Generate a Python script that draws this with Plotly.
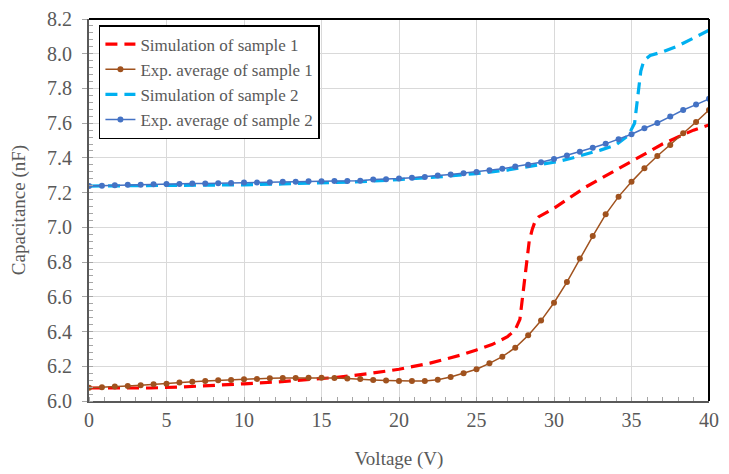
import plotly.graph_objects as go

# Experimental voltage grid (49 points, 0 to 40 V)
exp_voltage = [i * 40 / 48 for i in range(49)]

exp_sample1 = [6.077, 6.079, 6.083, 6.086, 6.090, 6.096, 6.100, 6.106, 6.111, 6.115,
               6.119, 6.121, 6.125, 6.127, 6.131, 6.132, 6.132, 6.134, 6.134, 6.132,
               6.129, 6.127, 6.121, 6.118, 6.115, 6.115, 6.115, 6.123, 6.138, 6.160,
               6.183, 6.217, 6.255, 6.307, 6.378, 6.463, 6.566, 6.685, 6.820, 6.950,
               7.075, 7.177, 7.262, 7.340, 7.411, 7.475, 7.542, 7.607, 7.676]

exp_sample2 = [7.238, 7.240, 7.242, 7.246, 7.246, 7.248, 7.250, 7.250, 7.252, 7.252,
               7.254, 7.256, 7.258, 7.258, 7.260, 7.262, 7.263, 7.265, 7.266, 7.267,
               7.267, 7.269, 7.275, 7.277, 7.281, 7.286, 7.290, 7.298, 7.304, 7.312,
               7.319, 7.329, 7.338, 7.350, 7.361, 7.375, 7.394, 7.414, 7.435, 7.458,
               7.481, 7.508, 7.536, 7.571, 7.601, 7.638, 7.676, 7.707, 7.740]

sim1_voltage = [0, 2, 4, 6, 8, 10, 12, 14, 16, 18, 20, 22, 24, 25, 26, 27, 27.5, 27.8,
                28.0, 28.2, 28.4, 28.6, 28.8, 29, 30, 31, 32, 33, 34, 35, 36, 37, 38, 39, 40]
sim1_values = [6.075, 6.074, 6.075, 6.081, 6.088, 6.099, 6.109, 6.122, 6.136, 6.157,
               6.183, 6.218, 6.265, 6.294, 6.325, 6.370, 6.410, 6.470, 6.620, 6.790,
               6.920, 6.990, 7.040, 7.060, 7.110, 7.170, 7.230, 7.280, 7.330, 7.380,
               7.430, 7.480, 7.520, 7.560, 7.590]

sim2_voltage = [0, 2.5, 5, 7.5, 10, 12.5, 15, 17.5, 20, 22.5, 25, 27, 28, 29, 30, 31, 32,
                33, 34, 34.8, 35.2, 35.4, 35.6, 35.8, 36.2, 37, 38, 39, 40]
sim2_values = [7.238, 7.239, 7.240, 7.242, 7.245, 7.250, 7.255, 7.263, 7.275, 7.290,
               7.310, 7.330, 7.345, 7.360, 7.375, 7.395, 7.420, 7.445, 7.475, 7.530,
               7.600, 7.750, 7.900, 7.960, 7.990, 8.010, 8.045, 8.090, 8.135]

x_ticks = [0, 5, 10, 15, 20, 25, 30, 35, 40]
y_ticks = [6.0, 6.2, 6.4, 6.6, 6.8, 7.0, 7.2, 7.4, 7.6, 7.8, 8.0, 8.2]

FONT = "Liberation Serif, Times New Roman, serif"
GRAY = "#595959"

fig = go.Figure()
fig.add_trace(go.Scatter(x=sim1_voltage, y=sim1_values, mode="lines",
                         name="Simulation of sample 1", legendgroup="a",
                         line=dict(color="#FF0000", width=3.2, dash="12px,7px")))
fig.add_trace(go.Scatter(x=exp_voltage, y=exp_sample1, mode="lines+markers",
                         name="Exp. average of sample 1", legendgroup="b",
                         line=dict(color="#A0521E", width=1.5),
                         marker=dict(color="#A0521E", size=6)))
fig.add_trace(go.Scatter(x=sim2_voltage, y=sim2_values, mode="lines",
                         name="Simulation of sample 2", legendgroup="c",
                         line=dict(color="#00B0F0", width=3.2, dash="12px,7px")))
fig.add_trace(go.Scatter(x=exp_voltage, y=exp_sample2, mode="lines+markers",
                         name="Exp. average of sample 2", legendgroup="d",
                         line=dict(color="#4472C4", width=1.5),
                         marker=dict(color="#4472C4", size=6)))

fig.update_layout(
    width=729, height=474,
    margin=dict(l=81, r=28, t=11, b=81),
    paper_bgcolor="white", plot_bgcolor="white",
    font=dict(family=FONT, color=GRAY, size=19),
    showlegend=True,
    legend=dict(x=0.016, y=0.984, xanchor="left", yanchor="top",
                bgcolor="white", bordercolor="black", borderwidth=1.5,
                font=dict(family=FONT, size=17, color=GRAY),
                tracegroupgap=9, traceorder="normal"),
    xaxis=dict(range=[0, 40], tickvals=x_ticks, showgrid=True, gridcolor="#D9D9D9",
               gridwidth=1, showline=True, linecolor=GRAY, linewidth=2,
               ticks="", zeroline=False, automargin=False,
               minor=dict(dtick=1, ticks="inside", ticklen=4, tickcolor="#A6A6A6", showgrid=False),
               title=dict(text="Voltage (V)", font=dict(family=FONT, size=19, color=GRAY), standoff=22),
               tickfont=dict(family=FONT, size=20, color=GRAY)),
    yaxis=dict(range=[6.0, 8.2], tickvals=y_ticks, tickformat=".1f", showgrid=True,
               gridcolor="#D9D9D9", gridwidth=1, showline=True, linecolor=GRAY, linewidth=2,
               ticks="outside", ticklen=5, tickcolor="#A6A6A6", zeroline=False, automargin=False,
               ticklabelstandoff=6,
               minor=dict(dtick=0.04, ticks="inside", ticklen=4, tickcolor="#A6A6A6", showgrid=False),
               title=dict(text="Capacitance (nF)", font=dict(family=FONT, size=19, color=GRAY), standoff=22),
               tickfont=dict(family=FONT, size=20, color=GRAY)),
)

# Black frame on top and right sides
fig.add_shape(type="line", xref="paper", yref="paper", x0=0, x1=1, y0=1, y1=1,
              line=dict(color="black", width=2))
fig.add_shape(type="line", xref="paper", yref="paper", x0=1, x1=1, y0=0, y1=1,
              line=dict(color="black", width=2))

fig.write_html("out.html")
